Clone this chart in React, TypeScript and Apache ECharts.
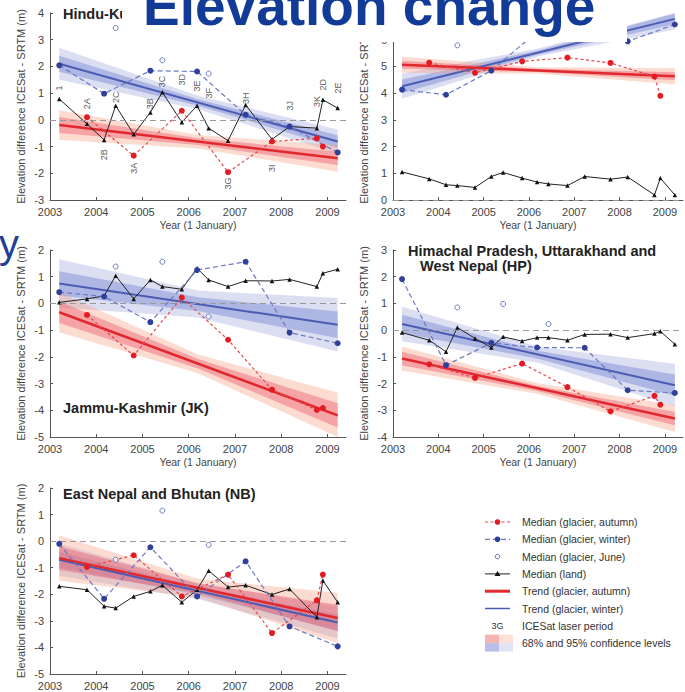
import { useEffect, useRef } from 'react';
import * as echarts from 'echarts';

const FONT = '"Liberation Sans", Arial, Helvetica, sans-serif';

const YEARS = [2003, 2004, 2005, 2006, 2007, 2008, 2009];

// ICESat laser campaigns (labels and approximate mid-dates)
const PERIODS = ['1', '2A', '2B', '2C', '3A', '3B', '3C', '3D', '3E', '3F', '3G', '3H', '3I', '3J', '3K', '2D', '2E'];
const PERIOD_TIMES = [2003.2, 2003.8, 2004.17, 2004.42, 2004.81, 2005.17, 2005.43, 2005.85, 2006.18, 2006.43, 2006.85, 2007.23, 2007.8, 2008.18, 2008.77, 2008.9, 2009.22];
const AUTUMN_TIMES = [2003.8, 2004.81, 2005.85, 2006.85, 2007.8, 2008.77, 2008.9];
const WINTER_TIMES = [2003.2, 2004.17, 2005.17, 2006.18, 2007.23, 2008.18, 2009.22];
const JUNE_TIMES = [2004.42, 2005.43, 2006.43];
const TREND_YEARS = [2003.2, 2009.22];
const BAND_YEARS = [2003.2, 2006.2, 2009.22];

// Hindu-Kush (HK)
const HK_LAND = [0.78, -0.15, -0.75, 0.53, -0.54, 0.28, 1.03, -0.09, 0.53, -0.31, -0.78, 0.56, -0.73, -0.25, -0.31, 0.75, 0.44];
const HK_AUTUMN = [0.1, -1.34, 0.34, -1.96, -0.81, -0.69, -1.0];
const HK_WINTER = [2.04, 0.98, 1.84, 1.81, 0.19, -0.25, -1.22];
const HK_JUNE = [3.44, 2.23, 1.73];
const HK_BLUE_TREND = [2.1, -0.81];
const HK_RED_TREND = [-0.19, -1.44];
const HK_BLUE_BAND = [[1.5, 1.8, 2.4, 2.7], [0.4, 0.53, 0.77, 0.9], [-1.26, -1.04, -0.58, -0.36]];
const HK_RED_BAND = [[-0.74, -0.49, 0.11, 0.36], [-1.07, -0.94, -0.69, -0.57], [-1.94, -1.69, -1.19, -0.94]];
const HK_LABEL_Y = [1.19, 0.6, -1.31, 0.85, -1.81, 0.6, 1.44, 1.5, 1.27, 1.0, -2.38, 0.81, -1.81, 0.53, 0.69, 1.31, 1.19];

// Karakoram (top right, partly hidden)
const KK_LAND = [1.05, 0.79, 0.57, 0.54, 0.47, 0.88, 1.03, 0.82, 0.67, 0.6, 0.54, 0.88, 0.78, 0.86, 0.19, 0.82, 0.19];
const KK_AUTUMN = [5.14, 4.76, 5.19, 5.33, 5.13, 4.62, 3.9];
const KK_WINTER = [4.13, 3.94, 4.84, 6.3, 6.6, 5.94, 6.57];
const KK_JUNE = [5.79, null, null];
const KK_BLUE_TREND = [4.26, 6.78];
const KK_RED_TREND = [5.06, 4.63];
const KK_BLUE_BAND = [[3.79, 4.01, 4.51, 4.73], [5.37, 5.44, 5.6, 5.67], [6.38, 6.58, 6.98, 7.0]];
const KK_RED_BAND = [[4.76, 4.91, 5.21, 5.36], [4.73, 4.79, 4.91, 4.97], [4.33, 4.48, 4.78, 4.93]];

// Jammu-Kashmir (JK)
const JK_LAND = [0.04, 0.17, 0.28, 1.04, 0.17, 0.88, 0.63, 0.53, 1.32, 0.88, 0.63, 0.85, 0.84, 0.9, 0.63, 1.13, 1.28];
const JK_AUTUMN = [-0.43, -1.95, 0.22, -1.36, -3.23, -3.99, -3.92];
const JK_WINTER = [0.42, 0.26, -0.7, 1.25, 1.56, -1.09, -1.49];
const JK_JUNE = [1.38, 1.56, -0.49];
const JK_BLUE_TREND = [0.75, -0.8];
const JK_RED_TREND = [-0.33, -4.19];
const JK_BLUE_BAND = [[-0.15, 0.3, 1.2, 1.65], [-0.53, -0.28, 0.23, 0.48], [-1.8, -1.3, -0.3, 0.2]];
const JK_RED_BAND = [[-1.08, -0.73, 0.07, 0.42], [-2.61, -2.44, -2.08, -1.91], [-5.0, -4.64, -3.74, -3.34]];

// Himachal Pradesh, Uttarakhand and West Nepal (HP)
const HP_LAND = [-0.09, -0.38, -0.81, 0.1, -0.31, -0.65, -0.25, -0.41, -0.28, -0.28, -0.38, -0.16, -0.15, -0.28, -0.13, -0.04, -0.53];
const HP_AUTUMN = [-1.28, -1.79, -1.25, -2.13, -3.04, -2.46, -2.79];
const HP_WINTER = [1.91, -1.31, -0.48, -0.65, -0.66, -2.25, -2.35];
const HP_JUNE = [0.85, 0.98, 0.23];
const HP_BLUE_TREND = [0.23, -2.06];
const HP_RED_TREND = [-1.06, -3.31];
const HP_BLUE_BAND = [[-0.42, -0.12, 0.58, 0.88], [-1.22, -1.07, -0.77, -0.62], [-2.86, -2.46, -1.66, -1.26]];
const HP_RED_BAND = [[-1.51, -1.31, -0.81, -0.61], [-2.39, -2.29, -2.09, -1.99], [-3.81, -3.56, -3.06, -2.81]];

// East Nepal and Bhutan (NB)
const NB_LAND = [-1.7, -1.83, -2.45, -2.52, -2.08, -1.89, -1.66, -2.3, -1.83, -1.11, -1.73, -1.66, -2.01, -1.8, -2.86, -1.48, -2.3];
const NB_AUTUMN = [-0.97, -0.53, -2.08, -1.26, -3.46, -2.23, -1.26];
const NB_WINTER = [-0.1, -2.17, -0.23, -2.08, -0.76, -3.21, -3.96];
const NB_JUNE = [-0.7, 1.15, -0.14];
const NB_BLUE_TREND = [-0.7, -3.06];
const NB_RED_TREND = [-0.64, -2.89];
const NB_BLUE_BAND = [[-1.3, -1.0, -0.4, -0.1], [-2.18, -2.03, -1.73, -1.58], [-3.66, -3.36, -2.76, -2.46]];
const NB_RED_BAND = [[-1.49, -1.09, -0.19, 0.21], [-2.12, -1.95, -1.59, -1.42], [-3.84, -3.39, -2.39, -1.94]];

const LEGEND_LABELS = [
  'Median (glacier, autumn)',
  'Median (glacier, winter)',
  'Median (glacier, June)',
  'Median (land)',
  'Trend (glacier, autumn)',
  'Trend (glacier, winter)',
  'ICESat laser period',
  '68% and 95% confidence levels',
];

const RED_PT = '#e31c23';
const RED_DASH = '#e8474a';
const RED_TREND = '#e0282e';
const BLUE_PT = '#2f3f9a';
const BLUE_DASH = '#6b79c4';
const BLUE_TREND = '#4a5cb4';
const RED95 = 'rgba(248,160,135,0.38)';
const RED68 = 'rgba(235,80,100,0.4)';
const BLUE95 = 'rgba(130,140,210,0.28)';
const BLUE68 = 'rgba(90,105,200,0.35)';

const PANELS = [
  { grid: { left: 50, top: 13, width: 296, height: 187 }, ymin: -3, ymax: 4, land: HK_LAND, autumn: HK_AUTUMN, winter: HK_WINTER, june: HK_JUNE, bt: HK_BLUE_TREND, rt: HK_RED_TREND, bb: HK_BLUE_BAND, rb: HK_RED_BAND },
  { grid: { left: 393, top: 13, width: 290, height: 187 }, ymin: 0, ymax: 7, land: KK_LAND, autumn: KK_AUTUMN, winter: KK_WINTER, june: KK_JUNE, bt: KK_BLUE_TREND, rt: KK_RED_TREND, bb: KK_BLUE_BAND, rb: KK_RED_BAND },
  { grid: { left: 50, top: 250, width: 296, height: 187 }, ymin: -5, ymax: 2, land: JK_LAND, autumn: JK_AUTUMN, winter: JK_WINTER, june: JK_JUNE, bt: JK_BLUE_TREND, rt: JK_RED_TREND, bb: JK_BLUE_BAND, rb: JK_RED_BAND },
  { grid: { left: 393, top: 250, width: 290, height: 187 }, ymin: -4, ymax: 3, land: HP_LAND, autumn: HP_AUTUMN, winter: HP_WINTER, june: HP_JUNE, bt: HP_BLUE_TREND, rt: HP_RED_TREND, bb: HP_BLUE_BAND, rb: HP_RED_BAND },
  { grid: { left: 50, top: 488, width: 296, height: 186 }, ymin: -5, ymax: 2, land: NB_LAND, autumn: NB_AUTUMN, winter: NB_WINTER, june: NB_JUNE, bt: NB_BLUE_TREND, rt: NB_RED_TREND, bb: NB_BLUE_BAND, rb: NB_RED_BAND },
];

function pairs(xs: number[], ys: (number | null)[]) {
  const out: number[][] = [];
  xs.forEach((x, i) => {
    const y = ys[i];
    if (y !== null && y !== undefined) out.push([x, y]);
  });
  return out;
}

function bandSeries(idx: number, band: number[][], fill95: string, fill68: string) {
  const rows = BAND_YEARS.map((x, i) => [x, ...band[i]]);
  return {
    type: 'custom',
    xAxisIndex: idx,
    yAxisIndex: idx,
    silent: true,
    clip: true,
    z: 1,
    data: rows,
    encode: { x: 0, y: [1, 4] },
    renderItem: (params: any, api: any) => {
      if (params.dataIndex !== 0) return null;
      const poly = (lo: number, hi: number) => {
        const up = rows.map((r) => api.coord([r[0], r[hi]]));
        const dn = rows.map((r) => api.coord([r[0], r[lo]])).reverse();
        return up.concat(dn);
      };
      return {
        type: 'group',
        children: [
          { type: 'polygon', shape: { points: poly(1, 4) }, style: { fill: fill95 } },
          { type: 'polygon', shape: { points: poly(2, 3) }, style: { fill: fill68 } },
        ],
      };
    },
  };
}

function buildOption() {
  const grid: any[] = [];
  const xAxis: any[] = [];
  const yAxis: any[] = [];
  const series: any[] = [];

  PANELS.forEach((p, i) => {
    grid.push({ ...p.grid, containLabel: false, outerBoundsMode: 'none', show: false });
    xAxis.push({
      type: 'value',
      gridIndex: i,
      min: 2003,
      max: 2009.4,
      interval: 1,
      name: 'Year (1 January)',
      nameLocation: 'middle',
      nameGap: 19,
      nameTextStyle: { fontSize: 10.5, color: '#444', fontFamily: FONT },
      axisLine: { show: true, onZero: false, lineStyle: { color: '#555', width: 1 } },
      axisTick: { show: true, inside: true, length: 3, customValues: YEARS, lineStyle: { color: '#555' } },
      axisLabel: {
        show: true,
        customValues: YEARS,
        margin: 6,
        fontSize: 11,
        color: '#444',
        fontFamily: FONT,
        formatter: (v: number) => (Number.isInteger(v) ? String(v) : ''),
      },
      splitLine: { show: false },
    });
    yAxis.push({
      type: 'value',
      gridIndex: i,
      min: p.ymin,
      max: p.ymax,
      interval: 1,
      name: 'Elevation difference ICESat - SRTM (m)',
      nameLocation: 'middle',
      nameGap: 24,
      nameTextStyle: { fontSize: 11, color: '#444', fontFamily: FONT },
      axisLine: { show: true, lineStyle: { color: '#555', width: 1 } },
      axisTick: { show: true, inside: true, length: 3, lineStyle: { color: '#555' } },
      axisLabel: { margin: 6, fontSize: 11, color: '#444', fontFamily: FONT },
      splitLine: { show: false },
    });

    series.push(bandSeries(i, p.bb, BLUE95, BLUE68));
    series.push(bandSeries(i, p.rb, RED95, RED68));
    series.push({
      type: 'line', xAxisIndex: i, yAxisIndex: i, silent: true, z: 3,
      data: pairs(TREND_YEARS, p.bt), symbol: 'none',
      lineStyle: { color: BLUE_TREND, width: 2 },
    });
    series.push({
      type: 'line', xAxisIndex: i, yAxisIndex: i, silent: true, z: 3,
      data: pairs(TREND_YEARS, p.rt), symbol: 'none',
      lineStyle: { color: RED_TREND, width: 2.5 },
    });
    series.push({
      type: 'line', xAxisIndex: i, yAxisIndex: i, silent: true, z: 4,
      data: pairs(PERIOD_TIMES, p.land), symbol: 'triangle', symbolSize: 4.5,
      itemStyle: { color: '#111' },
      lineStyle: { color: '#222', width: 1 },
      markLine: {
        silent: true, symbol: 'none', label: { show: false },
        lineStyle: { color: '#999', type: [6, 4], width: 1 },
        data: [{ yAxis: 0 }],
      },
    });
    series.push({
      type: 'line', xAxisIndex: i, yAxisIndex: i, silent: true, z: 5,
      data: pairs(WINTER_TIMES, p.winter), symbol: 'circle', symbolSize: 6,
      itemStyle: { color: BLUE_PT },
      lineStyle: { color: BLUE_DASH, width: 1.2, type: [5, 3] },
    });
    series.push({
      type: 'line', xAxisIndex: i, yAxisIndex: i, silent: true, z: 5,
      data: pairs(AUTUMN_TIMES, p.autumn), symbol: 'circle', symbolSize: 6,
      itemStyle: { color: RED_PT },
      lineStyle: { color: RED_DASH, width: 1.2, type: [3, 2.5] },
    });
    series.push({
      type: 'scatter', xAxisIndex: i, yAxisIndex: i, silent: true, z: 5,
      data: pairs(JUNE_TIMES, p.june), symbol: 'circle', symbolSize: 5,
      itemStyle: { color: '#fff', borderColor: BLUE_TREND, borderWidth: 1 },
    });
  });

  // ICESat laser period labels (Hindu-Kush panel)
  series.push({
    type: 'scatter', xAxisIndex: 0, yAxisIndex: 0, silent: true, z: 6,
    symbolSize: 0,
    data: PERIOD_TIMES.map((t, k) => [t, HK_LABEL_Y[k], PERIODS[k]]),
    label: {
      show: true, position: 'inside', rotate: 90, fontSize: 9, color: '#2a2a2a', fontFamily: FONT,
      formatter: (q: any) => q.data[2],
    },
  });

  const graphic: any[] = [];
  const titleStyle = { fontSize: 14.5, fontWeight: 'bold', fontFamily: FONT, fill: '#222', verticalAlign: 'middle' };
  graphic.push({ type: 'text', x: 63, y: 14, z: 50, style: { ...titleStyle, text: 'Hindu-Kush (HK)' } });
  graphic.push({ type: 'text', x: 63, y: 407.5, z: 50, style: { ...titleStyle, text: 'Jammu-Kashmir (JK)' } });
  graphic.push({ type: 'text', x: 408, y: 251, z: 50, style: { ...titleStyle, text: 'Himachal Pradesh, Uttarakhand and' } });
  graphic.push({ type: 'text', x: 420, y: 266, z: 50, style: { ...titleStyle, text: 'West Nepal (HP)' } });
  graphic.push({ type: 'text', x: 63, y: 494, z: 50, style: { ...titleStyle, text: 'East Nepal and Bhutan (NB)' } });

  // slide overlay: white box, title, partial letter
  graphic.push({ type: 'rect', z: 90, shape: { x: 122, y: 0, width: 505, height: 42 }, style: { fill: '#ffffff' } });
  graphic.push({ type: 'text', x: 143, y: 6, z: 100, style: { text: 'Elevation change', fontSize: 55, fontWeight: 'bold', fontFamily: FONT, fill: '#123a97', verticalAlign: 'middle' } });
  graphic.push({ type: 'text', x: -1, y: 244, z: 100, style: { text: 'y', fontSize: 40, fontFamily: FONT, fill: '#1f3f99', verticalAlign: 'middle' } });

  // legend
  const lx1 = 485, lx2 = 510, lcx = 497.5, ltx = 522;
  const ly = LEGEND_LABELS.map((_, k) => 522 + k * 17.3);
  LEGEND_LABELS.forEach((t, k) => {
    graphic.push({ type: 'text', x: ltx, y: ly[k], z: 100, style: { text: t, fontSize: 10.5, fontFamily: FONT, fill: '#333', verticalAlign: 'middle' } });
  });
  graphic.push({ type: 'line', z: 100, shape: { x1: lx1, y1: ly[0], x2: lx2, y2: ly[0] }, style: { stroke: RED_DASH, lineWidth: 1.2, lineDash: [3, 2.5] } });
  graphic.push({ type: 'circle', z: 101, shape: { cx: lcx, cy: ly[0], r: 2.8 }, style: { fill: RED_PT } });
  graphic.push({ type: 'line', z: 100, shape: { x1: lx1, y1: ly[1], x2: lx2, y2: ly[1] }, style: { stroke: BLUE_DASH, lineWidth: 1.2, lineDash: [5, 3] } });
  graphic.push({ type: 'circle', z: 101, shape: { cx: lcx, cy: ly[1], r: 2.8 }, style: { fill: BLUE_PT } });
  graphic.push({ type: 'circle', z: 101, shape: { cx: lcx, cy: ly[2], r: 2.2 }, style: { fill: '#fff', stroke: BLUE_TREND, lineWidth: 1 } });
  graphic.push({ type: 'line', z: 100, shape: { x1: lx1, y1: ly[3], x2: lx2, y2: ly[3] }, style: { stroke: '#222', lineWidth: 1 } });
  graphic.push({ type: 'polygon', z: 101, shape: { points: [[lcx, ly[3] - 3], [lcx - 3, ly[3] + 2], [lcx + 3, ly[3] + 2]] }, style: { fill: '#111' } });
  graphic.push({ type: 'line', z: 100, shape: { x1: lx1, y1: ly[4], x2: lx2, y2: ly[4] }, style: { stroke: RED_TREND, lineWidth: 3 } });
  graphic.push({ type: 'line', z: 100, shape: { x1: lx1, y1: ly[5], x2: lx2, y2: ly[5] }, style: { stroke: BLUE_TREND, lineWidth: 1.5 } });
  graphic.push({ type: 'text', x: lcx, y: ly[6], z: 100, style: { text: '3G', fontSize: 9, fontFamily: FONT, fill: '#333', align: 'center', verticalAlign: 'middle' } });
  graphic.push({ type: 'rect', z: 100, shape: { x: 485, y: ly[7] - 8.5, width: 14, height: 8.5 }, style: { fill: '#f5b3b3' } });
  graphic.push({ type: 'rect', z: 100, shape: { x: 499, y: ly[7] - 8.5, width: 14, height: 8.5 }, style: { fill: '#fde0d8' } });
  graphic.push({ type: 'rect', z: 100, shape: { x: 485, y: ly[7], width: 14, height: 8.5 }, style: { fill: '#b9bfe6' } });
  graphic.push({ type: 'rect', z: 100, shape: { x: 499, y: ly[7], width: 14, height: 8.5 }, style: { fill: '#e2e4f4' } });

  return {
    animation: false,
    backgroundColor: '#ffffff',
    textStyle: { fontFamily: FONT },
    grid,
    xAxis,
    yAxis,
    series,
    graphic,
  };
}

export default function App() {
  const ref = useRef<HTMLDivElement>(null);
  useEffect(() => {
    if (!ref.current) return;
    const chart = echarts.init(ref.current, undefined, { renderer: 'svg' });
    chart.setOption(buildOption() as any);
    return () => chart.dispose();
  }, []);
  return (
    <div
      ref={ref}
      style={{ position: 'absolute', left: 0, top: 0, width: 685, height: 692, background: '#fff' }}
    />
  );
}
